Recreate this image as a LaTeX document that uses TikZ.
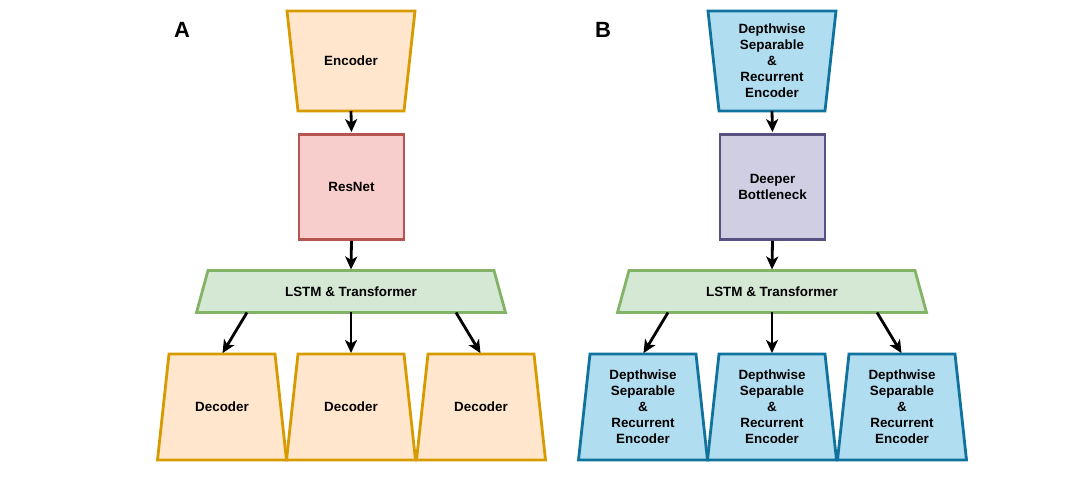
\documentclass[tikz,border=0pt]{standalone}
\usepackage{fontspec}
\setmainfont{Liberation Sans}
\usetikzlibrary{arrows.meta,backgrounds,calc,positioning}
\tikzset{>={Stealth[length=13pt,width=12pt,inset=3.5pt]}}
\definecolor{orangefill}{HTML}{FFE6CC}
\definecolor{orangeline}{HTML}{D79B00}
\definecolor{redfill}{HTML}{F8CECC}
\definecolor{redline}{HTML}{B85450}
\definecolor{greenfill}{HTML}{D5E8D4}
\definecolor{greenline}{HTML}{82B366}
\definecolor{bluefill}{HTML}{B1DDF0}
\definecolor{blueline}{HTML}{10739E}
\definecolor{purplefill}{HTML}{D0CEE2}
\definecolor{purpleline}{HTML}{56517E}
\newcommand{\dsre}{Depthwise\\Separable\\\&\\Recurrent\\Encoder}
% trapezoid outline round a node: wide top / wide bottom
\newcommand{\widetop}[3]{%
  \draw[#3] (#1.north west) -- (#1.north east) -- ([xshift=-#2pt]#1.south east)
    -- ([xshift=#2pt]#1.south west) -- cycle;}
\newcommand{\widebottom}[3]{%
  \draw[#3] ([xshift=#2pt]#1.north west) -- ([xshift=-#2pt]#1.north east)
    -- (#1.south east) -- (#1.south west) -- cycle;}
\tikzset{
  block/.style={align=center, inner sep=0pt, outer sep=0pt,
    font=\fontsize{13.4}{16}\selectfont\bfseries},
  encbox/.style={block, minimum width=128pt, minimum height=100pt},
  decbox/.style={block, minimum width=129pt, minimum height=106pt},
  corebox/.style={block, draw, line width=2.8pt, outer sep=1.4pt,
    minimum width=105pt, minimum height=105pt},
  lstmbox/.style={block, minimum width=309pt, minimum height=42pt},
  orangeshape/.style={fill=orangefill, draw=orangeline, line width=2.8pt},
  blueshape/.style={fill=bluefill, draw=blueline, line width=2.8pt},
  greenshape/.style={fill=greenfill, draw=greenline, line width=2.8pt},
  flow/.style={->, line width=2.8pt, shorten >=1pt},
  panellabel/.style={font=\fontsize{22}{26}\selectfont\bfseries}
}
\begin{document}
\begin{tikzpicture}[x=1pt, y=-1pt]
  \useasboundingbox (0,0) rectangle (1069,481);
  \def\off{421}  % shift of panel B
  %
  % panel A
  \node[panellabel] (labA) at (182,30) {A};
  \node[encbox] (encA) at (351,61) {Encoder};
  \node[corebox, fill=redfill, draw=redline] (resA) at (351.5,187) {ResNet};
  \node[lstmbox] (lstmA) at (351,291.5) {LSTM \& Transformer};
  \draw[flow] (encA.south) -- (resA.north);
  \draw[flow] (resA.south) -- (lstmA.north);
  \foreach \i/\dx/\sx in {1/-129/-104, 2/0/0, 3/130/105} {%
    \node[decbox] (decA\i) at (351+\dx,407) {Decoder};
    \draw[flow] ([xshift=\sx pt]lstmA.south) -- (decA\i.north);
  }
  %
  % panel B
  \node[panellabel] (labB) at (182+\off,30) {B};
  \node[encbox] (encB) at (351+\off,61) {\dsre};
  \node[corebox, fill=purplefill, draw=purpleline] (botB) at (351.5+\off,187) {Deeper\\Bottleneck};
  \node[lstmbox] (lstmB) at (351+\off,291.5) {LSTM \& Transformer};
  \draw[flow] (encB.south) -- (botB.north);
  \draw[flow] (botB.south) -- (lstmB.north);
  \foreach \i/\dx/\sx in {1/-129/-104, 2/0/0, 3/130/105} {%
    \node[decbox] (decB\i) at (351+\off+\dx,407) {\dsre};
    \draw[flow] ([xshift=\sx pt]lstmB.south) -- (decB\i.north);
  }
  %
  % outlines behind the texts
  \begin{scope}[on background layer]
    \widetop{encA}{11}{orangeshape}
    \widetop{encB}{11}{blueshape}
    \widebottom{lstmA}{11.5}{greenshape}
    \widebottom{lstmB}{11.5}{greenshape}
    \foreach \i in {1,2,3} {%
      \widebottom{decA\i}{11.5}{orangeshape}
      \widebottom{decB\i}{11.5}{blueshape}
    }
  \end{scope}
\end{tikzpicture}
\end{document}
